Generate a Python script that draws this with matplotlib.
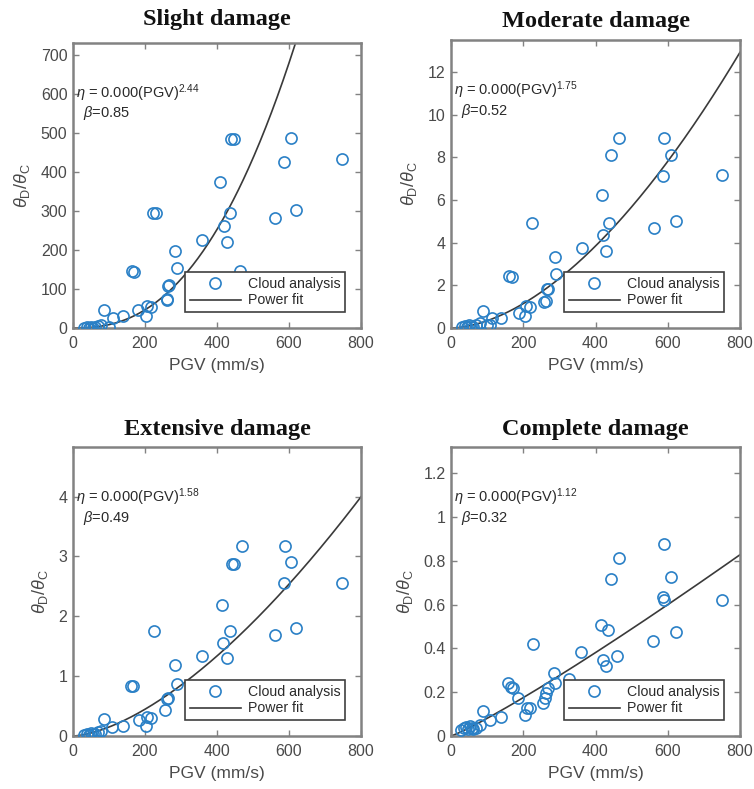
import numpy as np
import matplotlib
matplotlib.use("Agg")
import matplotlib.pyplot as plt
from matplotlib.ticker import FixedLocator

plt.rcParams["font.family"] = ["Liberation Sans", "DejaVu Sans"]
plt.rcParams["mathtext.fontset"] = "custom"
plt.rcParams["mathtext.rm"] = "Liberation Sans"
plt.rcParams["mathtext.it"] = "Liberation Sans:italic"
plt.rcParams["mathtext.bf"] = "Liberation Sans:bold"

# ---- data: cloud analysis points (PGV in mm/s, drift ratio theta_D/theta_C) ----
pgv_slight = [30, 38, 45, 50, 55, 62, 70, 78, 85, 100, 111, 139, 164, 170, 180,
              203, 205, 218, 222, 230, 260, 262, 265, 268, 282, 288, 358, 407,
              420, 427, 437, 440, 446, 464, 561, 587, 591, 605, 619, 748]
val_slight = [1, 2, 0, 3, 1, 2, 4, 8, 47, 3, 26, 32, 146, 144, 45,
              30, 57, 55, 294, 294, 72, 75, 107, 110, 198, 153, 226, 375,
              260, 220, 294, 485, 485, 145, 281, 426, 800, 487, 302, 432]

pgv_moderate = [30, 38, 45, 50, 55, 62, 70, 79, 88, 100, 109, 113, 139, 160, 169,
                187, 204, 208, 220, 225, 257, 262, 266, 268, 287, 291, 363, 418,
                420, 428, 437, 442, 465, 562, 588, 591, 608, 624, 751]
val_moderate = [0.05, 0.08, 0.05, 0.12, 0.10, 0.06, 0.15, 0.22, 0.79, 0.12, 0.16,
                0.46, 0.46, 2.45, 2.38, 0.72, 0.54, 1.02, 0.98, 4.91, 1.24, 1.25,
                1.82, 1.85, 3.33, 2.54, 3.77, 6.23, 4.35, 3.63, 4.91, 8.09, 8.91,
                4.71, 7.12, 8.91, 8.13, 5.03, 7.17]

pgv_extensive = [30, 38, 45, 50, 55, 62, 70, 78, 85, 107, 139, 160, 168, 182,
                 203, 206, 218, 226, 256, 260, 265, 283, 288, 358, 413, 416, 427,
                 437, 441, 446, 469, 560, 585, 589, 605, 619, 748]
val_extensive = [0.02, 0.03, 0.02, 0.05, 0.04, 0.03, 0.06, 0.08, 0.29, 0.15, 0.16,
                 0.84, 0.83, 0.26, 0.17, 0.32, 0.30, 1.76, 0.44, 0.62, 0.63, 1.18,
                 0.87, 1.33, 2.19, 1.55, 1.31, 1.75, 2.88, 2.88, 3.18, 1.68, 2.56,
                 3.18, 2.91, 1.81, 2.56]

pgv_complete = [29, 36, 42, 47, 52, 57, 61, 70, 79, 89, 107, 139, 158, 167, 172,
                185, 204, 211, 218, 227, 255, 259, 264, 268, 285, 289, 328, 361,
                416, 420, 428, 434, 443, 460, 466, 560, 587, 589, 591, 608, 624, 751]
val_complete = [0.028, 0.035, 0.040, 0.030, 0.046, 0.038, 0.030, 0.035, 0.050, 0.112,
                0.073, 0.089, 0.240, 0.226, 0.219, 0.173, 0.096, 0.127, 0.130, 0.422,
                0.150, 0.173, 0.196, 0.219, 0.287, 0.242, 0.260, 0.382, 0.505, 0.347,
                0.321, 0.485, 0.719, 0.365, 0.813, 0.436, 0.633, 0.622, 0.875, 0.725,
                0.477, 0.622]

# ---- power-law fits: eta = a * PGV^b ----
fit_coef = [1.13e-4, 1.074e-4, 1.035e-4, 4.64e-4]
fit_exp = [2.44, 1.75, 1.58, 1.12]
fit_beta = [0.85, 0.52, 0.49, 0.32]

titles = ["Slight damage", "Moderate damage", "Extensive damage", "Complete damage"]
y_tops = [730, 13.5, 4.83, 1.32]
y_ticks = [list(range(0, 701, 100)), [0, 2, 4, 6, 8, 10, 12],
           [0, 1, 2, 3, 4], [0, 0.2, 0.4, 0.6, 0.8, 1.0, 1.2]]
x_ticks = [0, 200, 400, 600, 800]

pgv_sets = [pgv_slight, pgv_moderate, pgv_extensive, pgv_complete]
val_sets = [val_slight, val_moderate, val_extensive, val_complete]

W, H = 754, 789
fig = plt.figure(figsize=(W / 100, H / 100), dpi=100)

# axes boxes in pixel coordinates: left, right, top, bottom
boxes = [(73, 361, 43, 328), (451, 740, 40, 328),
         (73, 361, 447, 736), (451, 740, 447, 736)]
title_y = [19, 21, 429, 429]

blue = "#2a80c6"
frame = "#828282"
txt = "#4a4a4a"

for i in range(4):
    l, r, t, b = boxes[i]
    ax = fig.add_axes([l / W, 1 - b / H, (r - l) / W, (b - t) / H])
    ax.set_xlim(0, 800)
    ax.set_ylim(0, y_tops[i])

    xs = np.linspace(0, 800, 400)
    ax.plot(pgv_sets[i], val_sets[i], linestyle="none", marker="o",
            markersize=8, markerfacecolor="none", markeredgecolor=blue,
            markeredgewidth=1.2, label="Cloud analysis", clip_on=True, zorder=3)
    ax.plot(xs, fit_coef[i] * xs ** fit_exp[i], color="#3a3a3a", lw=1.2,
            label="Power fit", zorder=2)

    ax.xaxis.set_major_locator(FixedLocator(x_ticks))
    ax.yaxis.set_major_locator(FixedLocator(y_ticks[i]))
    ax.set_xticklabels([str(v) for v in x_ticks])
    ax.set_yticklabels([f"{v:g}" for v in y_ticks[i]])
    ax.tick_params(direction="in", length=4, width=1.0, color=frame,
                   labelsize=11.5, labelcolor=txt, top=True, right=True)
    ax.tick_params(axis="y", pad=4)
    ax.tick_params(axis="x", pad=6)
    for sp in ax.spines.values():
        sp.set_color(frame)
        sp.set_linewidth(1.8)

    ax.set_xlabel("PGV (mm/s)", fontsize=12.5, color=txt, labelpad=5)
    ax.set_ylabel(r"$\mathit{\theta}_{\mathrm{D}}/\mathit{\theta}_{\mathrm{C}}$",
                  fontsize=13, color=txt, labelpad=6)

    ax.text(0.012, 0.825,
            r"$\mathit{\eta}$ = 0.000(PGV)$^{%.2f}$" % fit_exp[i],
            transform=ax.transAxes, fontsize=10.5, color="#2a2a2a", va="center")
    ax.text(0.035, 0.755, r"$\mathit{\beta}$=%.2f" % fit_beta[i],
            transform=ax.transAxes, fontsize=10.5, color="#2a2a2a", va="center")

    leg = ax.legend(loc="lower right", fontsize=10.2, frameon=True, fancybox=False,
                    framealpha=1, edgecolor="#404040", borderaxespad=1.1,
                    handlelength=3.6, handletextpad=0.5, borderpad=0.35,
                    labelspacing=0.15)
    leg.get_frame().set_linewidth(1.2)
    for t_ in leg.get_texts():
        t_.set_color("#2a2a2a")

    fig.text((l + r) / 2 / W, 1 - title_y[i] / H, titles[i],
             fontfamily="Liberation Serif", fontweight="bold", fontsize=17.5,
             ha="center", va="center", color="#111111")

fig.savefig("out.png", dpi=100)
